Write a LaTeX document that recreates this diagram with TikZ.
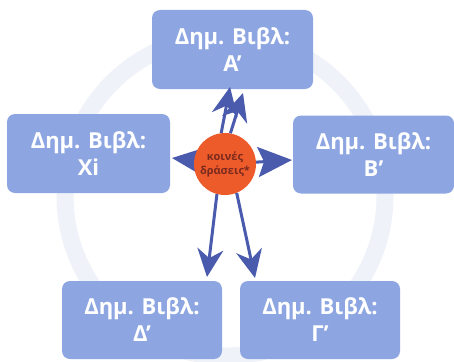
\documentclass[tikz,border=0pt]{standalone}
\usepackage{fontspec}
\setmainfont{Open Sans}
\usetikzlibrary{arrows.meta}
\definecolor{boxblue}{HTML}{8DA6E2}
\definecolor{arrblue}{HTML}{4A5BAE}
\definecolor{orng}{HTML}{EE5B2B}
\definecolor{ring}{HTML}{F0F2F9}
\definecolor{ctext}{HTML}{7A2A1E}
\begin{document}
\begin{tikzpicture}[x=1pt,y=-1pt,
  bbox/.style={fill=boxblue,rounded corners=8pt,text=white,font=\fontsize{22}{27}\selectfont\bfseries,align=center,inner sep=0pt},
  hub/.style={circle,fill=orng,minimum size=62pt,inner sep=0pt,align=center,text=ctext,font=\fontsize{11}{14}\selectfont\bfseries},
  arr/.style={draw=arrblue,line width=3pt,-{Stealth[width=26pt,length=28pt,inset=9pt]}},
  sidearr/.style={draw=arrblue,line width=3pt,-{Stealth[width=30pt,length=34pt,inset=6pt]}}]
\useasboundingbox (0,0) rectangle (454,361);
\fill[white] (0,0) rectangle (454,361);
\draw[ring,line width=17pt] (225,196) circle[radius=160];
\node[bbox,minimum width=161pt,minimum height=79pt] (A) at (232.5,49.5) {Δημ. Βιβλ:\\Α’};
\node[bbox,minimum width=163pt,minimum height=79pt] (X) at (88.5,153.5) {Δημ. Βιβλ:\\Χi};
\node[bbox,minimum width=161pt,minimum height=78pt] (B) at (373.5,154.5) {Δημ. Βιβλ:\\Β’};
\node[bbox,minimum width=160pt,minimum height=78pt] (D) at (142,320) {Δημ. Βιβλ:\\Δ’};
\node[bbox,minimum width=160pt,minimum height=78pt] (G) at (320,320) {Δημ. Βιβλ:\\Γ’};
\coordinate (ta) at (230,87);
\coordinate (tb) at (243,93);
\coordinate (tx) at (172,158);
\coordinate (tr) at (292,160);
\coordinate (td) at (207,277);
\coordinate (tg) at (255,278);
\coordinate (cc) at (225,164);
\draw[sidearr] (cc) -- (tx);
\draw[sidearr] (cc) -- (tr);
\node[hub] (c) at (cc) {κοινές\\δράσεις*};
\draw[arr] (c.97) -- (ta);
\draw[arr] (c.80) -- (tb);
\draw[arr] (c.-105) -- (td);
\draw[arr] (c.-68) -- (tg);
\end{tikzpicture}
\end{document}
